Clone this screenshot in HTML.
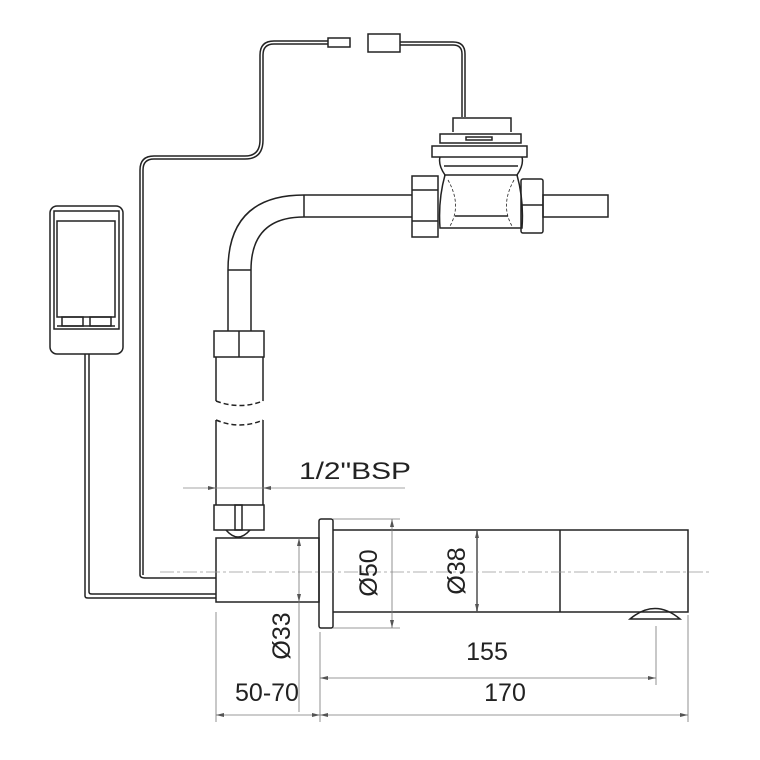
<!DOCTYPE html>
<html><head><meta charset="utf-8"><style>html,body{margin:0;padding:0;background:#fff}svg{display:block}</style></head><body>
<svg width="760" height="760" viewBox="0 0 760 760" xmlns="http://www.w3.org/2000/svg" fill="none" stroke="#222" stroke-width="1.5" font-family="Liberation Sans, sans-serif">
<!-- controller box -->
<rect x="50" y="206" width="73" height="148" rx="7"/>
<rect x="54" y="211" width="65" height="118"/>
<rect x="57" y="221" width="58" height="96"/>
<rect x="62" y="317" width="21" height="9"/>
<rect x="90" y="317" width="21" height="9"/>
<line x1="57" y1="326" x2="115" y2="326"/>
<!-- cable from box -->
<path d="M85 354 V596 Q85 598 88 598 H216"/>
<path d="M89 354 V592 Q89 594 92 594 H216"/>
<!-- long cable -->
<path d="M140 575 V170 Q140 156 154 156 H245 Q260 156 260 140 V55 Q260 41 274 41 H328"/>
<path d="M143 575 V170 Q143 159 154 159 H245 Q263 159 263 140 V55 Q263 44 274 44 H328"/>
<path d="M140 575 Q140 578 146 578 H216"/>
<rect x="328" y="38" width="22" height="9"/>
<rect x="368" y="34" width="32" height="18"/>
<path d="M400 42 H453 Q465 42 465 54 V117"/>
<path d="M400 45 H453 Q462 45 462 54 V117"/>
<!-- valve -->
<path d="M453 132 V118 H511 V132"/>
<rect x="440" y="134" width="81" height="9"/>
<rect x="466" y="137" width="26" height="3"/>
<rect x="432" y="146" width="95" height="11"/>
<path d="M440 157 Q438 165 445 175 Q438 200 440 228 H522 Q524 200 517 175 Q524 165 522 157"/>
<line x1="444" y1="166" x2="518" y2="166"/>
<line x1="444" y1="175" x2="518" y2="175"/>
<path d="M448 180 Q462 205 450 226" stroke-dasharray="3 2" stroke-width="0.8"/>
<path d="M514 180 Q500 205 512 226" stroke-dasharray="3 2" stroke-width="0.8"/>
<line x1="455" y1="216" x2="508" y2="216"/>
<rect x="412" y="176" width="26" height="61"/>
<line x1="412" y1="190" x2="438" y2="190"/>
<line x1="412" y1="221" x2="438" y2="221"/>
<rect x="521" y="179" width="22" height="54" rx="2"/>
<line x1="521" y1="205" x2="543" y2="205"/>
<rect x="543" y="195" width="65" height="22"/>
<!-- pipe -->
<path d="M412 195 H304 Q228 195 228 270 V331"/>
<path d="M412 217 H304 Q251 217 251 270 V331"/>
<line x1="304" y1="195" x2="304" y2="217"/>
<line x1="228" y1="270" x2="251" y2="270"/>
<rect x="214" y="331" width="50" height="26"/>
<line x1="239" y1="331" x2="239" y2="357"/>
<path d="M216 357 V401 M263 357 V401 M216 420 V505 M263 420 V505"/>
<path d="M216 401 Q240 410 263 401" stroke-dasharray="5 3"/>
<path d="M216 420 Q240 430 263 420" stroke-dasharray="5 3"/>
<rect x="214" y="505" width="50" height="25"/>
<rect x="235" y="505" width="7" height="25"/>
<path d="M226 530 Q238 544 250 530"/>
<!-- BSP dim -->
<line x1="183" y1="488" x2="405" y2="488" stroke="#888" stroke-width="0.8"/>
<path d="M216 488 l-8 -2 v4z M263 488 l8 -2 v4z" fill="#555" stroke="none"/>
<text x="299" y="479" font-size="24" textLength="112" lengthAdjust="spacingAndGlyphs" fill="#222" stroke="none">1/2"BSP</text>
<!-- main body -->
<rect x="216" y="538" width="103" height="64"/>
<rect x="319" y="519" width="14" height="109" rx="2"/>
<path d="M333 530 H688 V612 H333"/>
<line x1="477" y1="530" x2="477" y2="612"/>
<line x1="560" y1="530" x2="560" y2="612"/>
<path d="M630 619 Q655 598 680 619 Z"/>
<line x1="160" y1="572" x2="710" y2="572" stroke="#999" stroke-width="0.8" stroke-dasharray="14 3 3 3"/>
<!-- dims -->
<g stroke="#777" stroke-width="0.8">
<line x1="333" y1="519" x2="400" y2="519"/><line x1="333" y1="628" x2="400" y2="628"/>
<line x1="392" y1="519" x2="392" y2="628"/>
<line x1="477" y1="530" x2="477" y2="612"/>
<line x1="299" y1="538" x2="299" y2="712"/>
<line x1="216" y1="612" x2="216" y2="722"/>
<line x1="320" y1="632" x2="320" y2="722"/>
<line x1="656" y1="626" x2="656" y2="685"/>
<line x1="688" y1="615" x2="688" y2="722"/>
<line x1="320" y1="678" x2="656" y2="678"/>
<line x1="216" y1="715" x2="688" y2="715"/>
</g>
<path d="M392 519 l-2 8 h4z M392 628 l-2 -8 h4z M477 530 l-2 8 h4z M477 612 l-2 -8 h4z M299 538 l-2 8 h4z M299 602 l-2 -8 h4z M320 678 l8 -2 v4z M656 678 l-8 -2 v4z M216 715 l8 -2 v4z M320 715 l-8 -2 v4z M320 715 l8 -2 v4z M688 715 l-8 -2 v4z" fill="#555" stroke="none"/>
<g fill="#222" stroke="none" font-size="25">
<text transform="translate(377 573) rotate(-90)" text-anchor="middle">Ø50</text>
<text transform="translate(465 571) rotate(-90)" text-anchor="middle">Ø38</text>
<text transform="translate(290 636) rotate(-90)" text-anchor="middle">Ø33</text>
<text x="487" y="660" text-anchor="middle">155</text>
<text x="505" y="701" text-anchor="middle">170</text>
<text x="267" y="701" text-anchor="middle">50-70</text>
</g>
</svg>
</body></html>
